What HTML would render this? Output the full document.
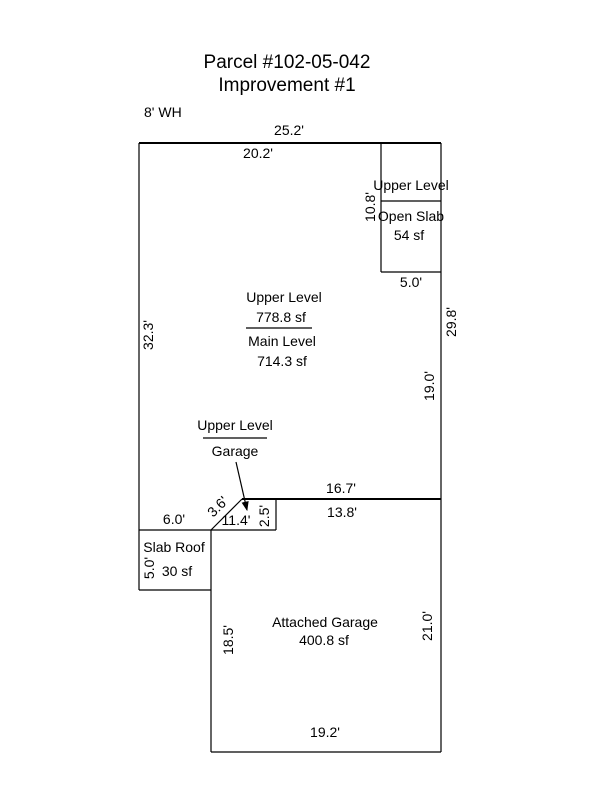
<!DOCTYPE html>
<html><head><style>
body{margin:0;background:#fff;}
svg text{font-family:"Liberation Sans",sans-serif;font-size:14px;fill:#000;}
</style></head><body>
<svg width="600" height="800" xmlns="http://www.w3.org/2000/svg">
<defs><marker id="a" markerWidth="8" markerHeight="8" refX="7" refY="4" orient="auto"><path d="M0,1 L8,4 L0,7 z" fill="#000"/></marker></defs>
<text x="287" y="68" text-anchor="middle" style="font-size:19px">Parcel #102-05-042</text>
<text x="287" y="91" text-anchor="middle" style="font-size:19px">Improvement #1</text>
<text x="144" y="117">8' WH</text>
<g stroke="#000" stroke-width="1.2" fill="none">
<line x1="139" y1="143" x2="441" y2="143" stroke-width="2"/>
<line x1="139" y1="143" x2="139" y2="590"/>
<line x1="441" y1="143" x2="441" y2="752"/>
<line x1="381" y1="143" x2="381" y2="272"/>
<line x1="381" y1="272" x2="441" y2="272"/>
<line x1="381" y1="201" x2="441" y2="201"/>
<line x1="242" y1="499" x2="441" y2="499" stroke-width="2"/>
<line x1="211" y1="530" x2="242" y2="499"/>
<line x1="276" y1="499" x2="276" y2="530"/>
<line x1="139" y1="530" x2="276" y2="530"/>
<line x1="139" y1="590" x2="211" y2="590"/>
<line x1="211" y1="530" x2="211" y2="752"/>
<line x1="211" y1="752" x2="441" y2="752"/>
<line x1="246" y1="328" x2="312" y2="328"/>
<line x1="203" y1="438" x2="267" y2="438"/>
<line x1="236" y1="462" x2="247" y2="510" marker-end="url(#a)"/>
</g>
<text x="289" y="135" text-anchor="middle">25.2'</text>
<text x="258" y="158" text-anchor="middle">20.2'</text>
<text x="411" y="190" text-anchor="middle">Upper Level</text>
<text x="411" y="221" text-anchor="middle">Open Slab</text>
<text x="409" y="240" text-anchor="middle">54 sf</text>
<text transform="translate(375,207) rotate(-90)" text-anchor="middle">10.8'</text>
<text x="411" y="287" text-anchor="middle">5.0'</text>
<text transform="translate(456,322) rotate(-90)" text-anchor="middle">29.8'</text>
<text x="284" y="302" text-anchor="middle">Upper Level</text>
<text x="281" y="322" text-anchor="middle">778.8 sf</text>
<text x="282" y="346" text-anchor="middle">Main Level</text>
<text x="282" y="366" text-anchor="middle">714.3 sf</text>
<text transform="translate(153,335) rotate(-90)" text-anchor="middle">32.3'</text>
<text transform="translate(434,386) rotate(-90)" text-anchor="middle">19.0'</text>
<text x="235" y="430" text-anchor="middle">Upper Level</text>
<text x="235" y="456" text-anchor="middle">Garage</text>
<text x="341" y="493" text-anchor="middle">16.7'</text>
<text x="342" y="517" text-anchor="middle">13.8'</text>
<text x="174" y="524" text-anchor="middle">6.0'</text>
<text transform="translate(221,510) rotate(-45)" text-anchor="middle">3.6'</text>
<text x="236" y="525" text-anchor="middle">11.4'</text>
<text transform="translate(269,516) rotate(-90)" text-anchor="middle">2.5'</text>
<text x="174" y="552" text-anchor="middle">Slab Roof</text>
<text x="177" y="576" text-anchor="middle">30 sf</text>
<text transform="translate(154,568) rotate(-90)" text-anchor="middle">5.0'</text>
<text x="325" y="627" text-anchor="middle">Attached Garage</text>
<text x="324" y="645" text-anchor="middle">400.8 sf</text>
<text transform="translate(233,640) rotate(-90)" text-anchor="middle">18.5'</text>
<text transform="translate(432,626) rotate(-90)" text-anchor="middle">21.0'</text>
<text x="325" y="737" text-anchor="middle">19.2'</text>
</svg>
</body></html>
